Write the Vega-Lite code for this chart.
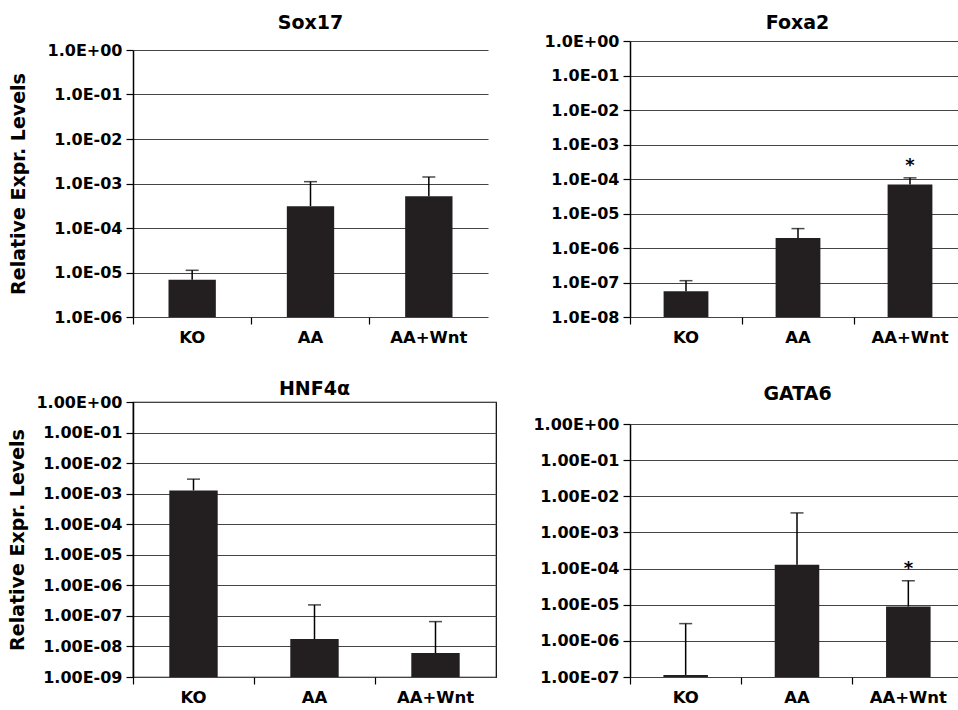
{
  "$schema": "https://vega.github.io/schema/vega-lite/v6.json",
  "background": "white",
  "padding": {"left": 8, "top": 14, "right": 0, "bottom": 0},
  "config": {
    "font": "DejaVu Sans",
    "view": {"stroke": null},
    "axis": {
      "labelFont": "DejaVu Sans", "labelFontWeight": "bold", "labelFontSize": 16, "labelColor": "black",
      "titleFont": "DejaVu Sans", "titleFontWeight": "bold", "titleFontSize": 19, "titleColor": "black",
      "tickColor": "black", "domainColor": "black", "tickSize": 7, "tickWidth": 1.2, "domainWidth": 1.5,
      "gridColor": "#444", "gridWidth": 1.2, "gridOpacity": 1
    },
    "axisX": {"labelFontSize": 16.5},
    "title": {"font": "DejaVu Sans", "fontSize": 19, "fontWeight": "bold", "color": "black", "frame": "group", "anchor": "middle"}
  },
  "data": {"values": [
    {"gene": "Sox17", "group": "KO", "value": 6.9e-6, "err": 1.12e-5, "sig": ""},
    {"gene": "Sox17", "group": "AA", "value": 3.1e-4, "err": 1.1e-3, "sig": ""},
    {"gene": "Sox17", "group": "AA+Wnt", "value": 5.15e-4, "err": 1.4e-3, "sig": ""},
    {"gene": "Foxa2", "group": "KO", "value": 5.6e-8, "err": 1.13e-7, "sig": ""},
    {"gene": "Foxa2", "group": "AA", "value": 1.96e-6, "err": 3.65e-6, "sig": ""},
    {"gene": "Foxa2", "group": "AA+Wnt", "value": 6.9e-5, "err": 1.08e-4, "sig": "*"},
    {"gene": "HNF4a", "group": "KO", "value": 1.28e-3, "err": 2.99e-3, "sig": ""},
    {"gene": "HNF4a", "group": "AA", "value": 1.74e-8, "err": 2.29e-7, "sig": ""},
    {"gene": "HNF4a", "group": "AA+Wnt", "value": 6.1e-9, "err": 6.5e-8, "sig": ""},
    {"gene": "GATA6", "group": "KO", "value": 1.14e-7, "err": 3.0e-6, "sig": ""},
    {"gene": "GATA6", "group": "AA", "value": 1.28e-4, "err": 3.47e-3, "sig": ""},
    {"gene": "GATA6", "group": "AA+Wnt", "value": 8.9e-6, "err": 4.6e-5, "sig": "*"}
  ]},
  "spacing": 35,
  "hconcat": [
    {
      "spacing": 33,
      "vconcat": [
        {
          "width": 355, "height": 276,
          "title": {"text": "Sox17", "offset": 8},
          "transform": [{"filter": "datum.gene == 'Sox17'"}],
          "encoding": {
            "x": {"field": "group", "type": "nominal", "sort": ["KO", "AA", "AA+Wnt"],
                  "scale": {"paddingInner": 0, "paddingOuter": 0},
                  "axis": {"title": null, "labelAngle": 0, "bandPosition": 0, "domain": false, "labelPadding": 5}}
          },
          "layer": [
            {"mark": {"type": "bar", "color": "#231f20", "width": {"band": 0.4}},
             "encoding": {
               "y": {"field": "value", "type": "quantitative",
                     "scale": {"type": "log", "domain": [1e-6, 1], "nice": false, "range": [276, 9]},
                     "axis": {"title": "Relative Expr. Levels", "titlePadding": 19, "grid": true, "labelPadding": 4,
                              "values": [1e-6, 1e-5, 1e-4, 1e-3, 1e-2, 1e-1, 1],
                              "labelExpr": "datum.value >= 0.5 ? '1.0E+00' : '1.0E-0' + round(-log(datum.value)/LN10)"}},
               "y2": {"datum": 1e-6}}},
            {"mark": {"type": "rule", "color": "black", "strokeWidth": 1.5},
             "encoding": {"y": {"field": "value", "type": "quantitative"}, "y2": {"field": "err"}}},
            {"mark": {"type": "tick", "color": "black", "thickness": 1.5, "size": 13, "orient": "horizontal"},
             "encoding": {"y": {"field": "err", "type": "quantitative"}}},
            {"mark": {"type": "text", "baseline": "bottom", "dy": -3, "fontSize": 18, "fontWeight": "bold", "color": "black"},
             "encoding": {"y": {"field": "err", "type": "quantitative"}, "text": {"field": "sig"}}}
          ]
        },
        {
          "width": 363, "height": 275,
          "view": {"stroke": "black", "strokeWidth": 1.2},
          "title": {"text": "HNF4α", "offset": -5},
          "transform": [{"filter": "datum.gene == 'HNF4a'"}],
          "encoding": {
            "x": {"field": "group", "type": "nominal", "sort": ["KO", "AA", "AA+Wnt"],
                  "scale": {"paddingInner": 0, "paddingOuter": 0},
                  "axis": {"title": null, "labelAngle": 0, "bandPosition": 0, "domain": false, "labelPadding": 5}}
          },
          "layer": [
            {"mark": {"type": "bar", "color": "#231f20", "width": {"band": 0.4}},
             "encoding": {
               "y": {"field": "value", "type": "quantitative",
                     "scale": {"type": "log", "domain": [1e-9, 1], "nice": false},
                     "axis": {"title": "Relative Expr. Levels", "titlePadding": 8, "grid": true, "labelPadding": 4,
                              "values": [1e-9, 1e-8, 1e-7, 1e-6, 1e-5, 1e-4, 1e-3, 1e-2, 1e-1, 1],
                              "labelExpr": "datum.value >= 0.5 ? '1.00E+00' : '1.00E-0' + round(-log(datum.value)/LN10)"}},
               "y2": {"datum": 1e-9}}},
            {"mark": {"type": "rule", "color": "black", "strokeWidth": 1.5},
             "encoding": {"y": {"field": "value", "type": "quantitative"}, "y2": {"field": "err"}}},
            {"mark": {"type": "tick", "color": "black", "thickness": 1.5, "size": 13, "orient": "horizontal"},
             "encoding": {"y": {"field": "err", "type": "quantitative"}}},
            {"mark": {"type": "text", "baseline": "bottom", "dy": -3, "fontSize": 18, "fontWeight": "bold", "color": "black"},
             "encoding": {"y": {"field": "err", "type": "quantitative"}, "text": {"field": "sig"}}}
          ]
        }
      ]
    },
    {
      "spacing": 39,
      "vconcat": [
        {
          "width": 327, "height": 276,
          "title": {"text": "Foxa2", "offset": 0, "dx": 4},
          "transform": [{"filter": "datum.gene == 'Foxa2'"}],
          "encoding": {
            "x": {"field": "group", "type": "nominal", "sort": ["KO", "AA", "AA+Wnt"],
                  "scale": {"paddingInner": 0, "paddingOuter": 0, "range": [0, 336]},
                  "axis": {"title": null, "labelAngle": 0, "bandPosition": 0, "domain": false, "labelPadding": 5}}
          },
          "layer": [
            {"mark": {"type": "bar", "color": "#231f20", "width": {"band": 0.4}},
             "encoding": {
               "y": {"field": "value", "type": "quantitative",
                     "scale": {"type": "log", "domain": [1e-8, 1], "nice": false},
                     "axis": {"title": null, "grid": true, "labelPadding": 4,
                              "values": [1e-8, 1e-7, 1e-6, 1e-5, 1e-4, 1e-3, 1e-2, 1e-1, 1],
                              "labelExpr": "datum.value >= 0.5 ? '1.0E+00' : '1.0E-0' + round(-log(datum.value)/LN10)"}},
               "y2": {"datum": 1e-8}}},
            {"mark": {"type": "rule", "color": "black", "strokeWidth": 1.5},
             "encoding": {"y": {"field": "value", "type": "quantitative"}, "y2": {"field": "err"}}},
            {"mark": {"type": "tick", "color": "black", "thickness": 1.5, "size": 13, "orient": "horizontal"},
             "encoding": {"y": {"field": "err", "type": "quantitative"}}},
            {"mark": {"type": "text", "baseline": "bottom", "dy": -3, "fontSize": 18, "fontWeight": "bold", "color": "black"},
             "encoding": {"y": {"field": "err", "type": "quantitative"}, "text": {"field": "sig"}}}
          ]
        },
        {
          "width": 327, "height": 275,
          "title": {"text": "GATA6", "offset": -2, "dx": 4},
          "transform": [{"filter": "datum.gene == 'GATA6'"}],
          "encoding": {
            "x": {"field": "group", "type": "nominal", "sort": ["KO", "AA", "AA+Wnt"],
                  "scale": {"paddingInner": 0, "paddingOuter": 0, "range": [0, 334]},
                  "axis": {"title": null, "labelAngle": 0, "bandPosition": 0, "domain": false, "labelPadding": 5}}
          },
          "layer": [
            {"mark": {"type": "bar", "color": "#231f20", "width": {"band": 0.4}},
             "encoding": {
               "y": {"field": "value", "type": "quantitative",
                     "scale": {"type": "log", "domain": [1e-7, 1], "nice": false, "range": [275, 22]},
                     "axis": {"title": null, "grid": true, "labelPadding": 4,
                              "values": [1e-7, 1e-6, 1e-5, 1e-4, 1e-3, 1e-2, 1e-1, 1],
                              "labelExpr": "datum.value >= 0.5 ? '1.00E+00' : '1.00E-0' + round(-log(datum.value)/LN10)"}},
               "y2": {"datum": 1e-7}}},
            {"mark": {"type": "rule", "color": "black", "strokeWidth": 1.5},
             "encoding": {"y": {"field": "value", "type": "quantitative"}, "y2": {"field": "err"}}},
            {"mark": {"type": "tick", "color": "black", "thickness": 1.5, "size": 13, "orient": "horizontal"},
             "encoding": {"y": {"field": "err", "type": "quantitative"}}},
            {"mark": {"type": "text", "baseline": "bottom", "dy": -3, "fontSize": 18, "fontWeight": "bold", "color": "black"},
             "encoding": {"y": {"field": "err", "type": "quantitative"}, "text": {"field": "sig"}}}
          ]
        }
      ]
    }
  ]
}
